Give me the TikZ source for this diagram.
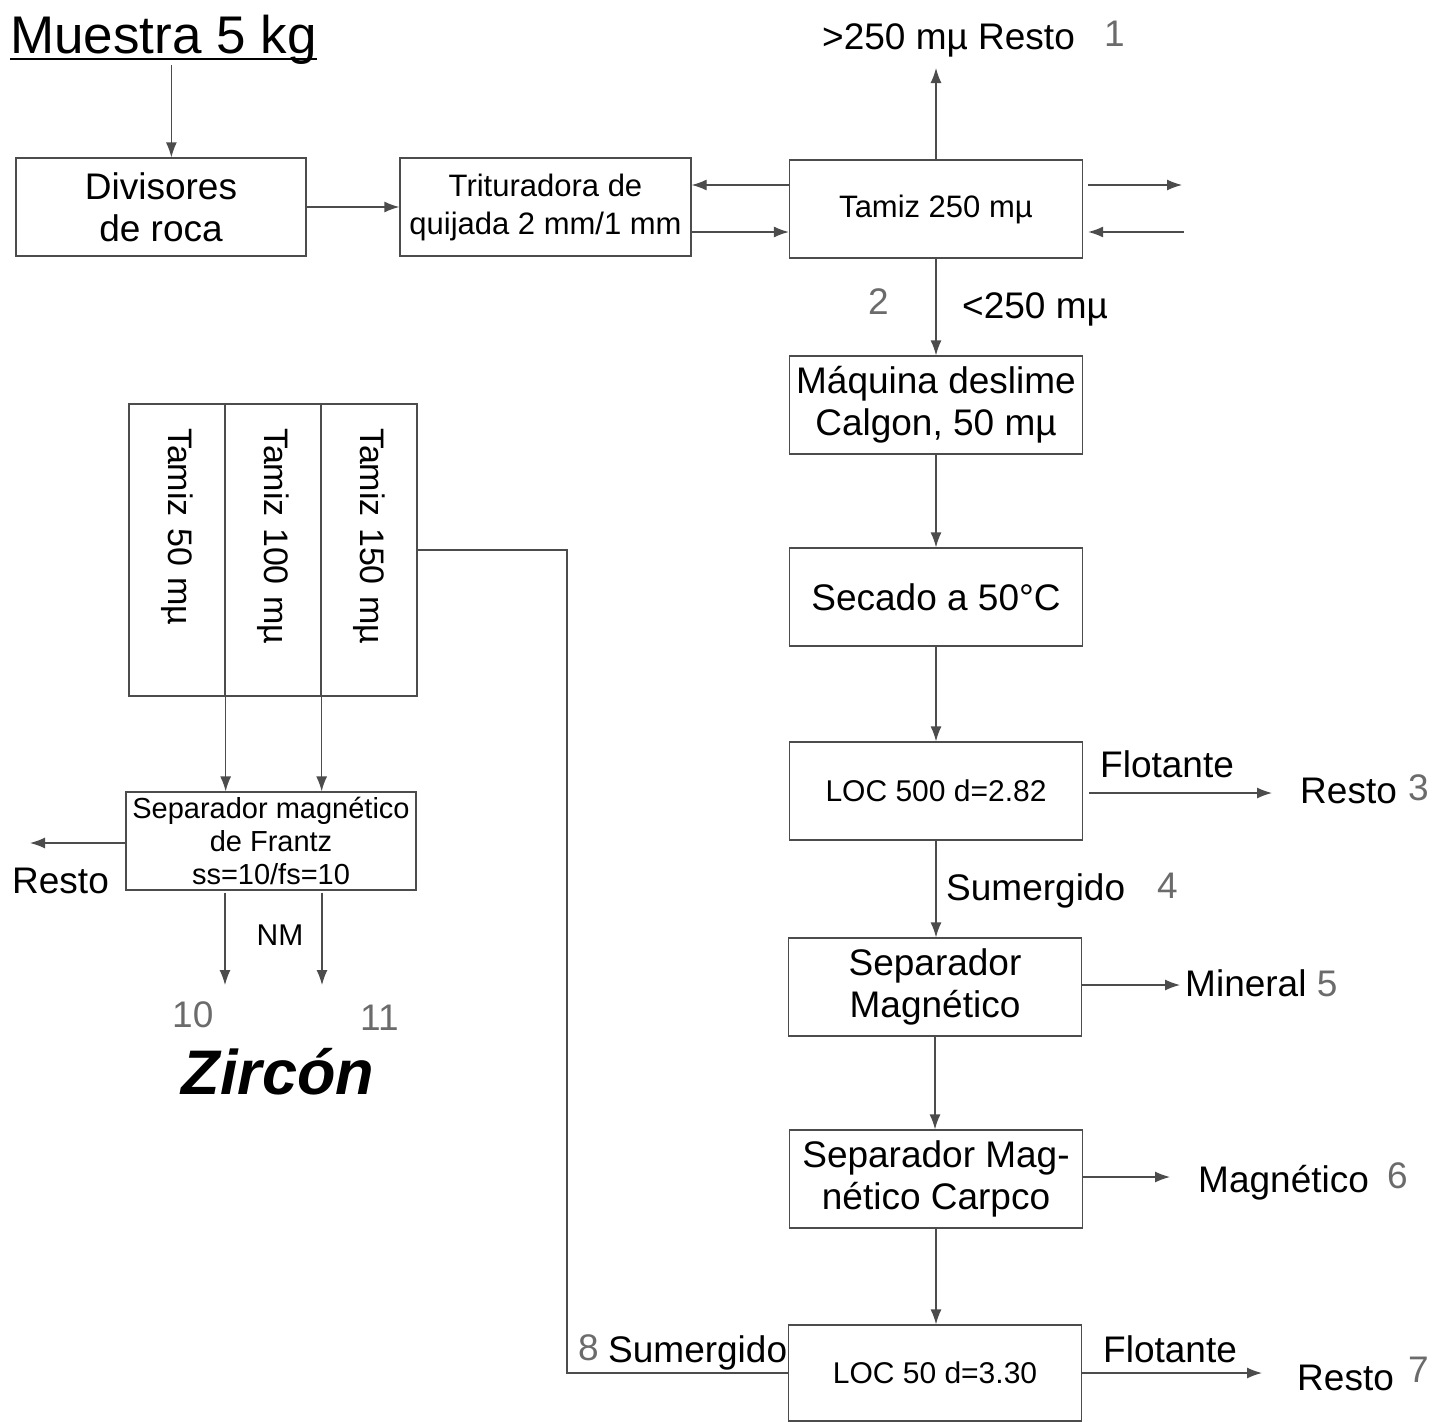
\documentclass[tikz,border=0pt]{standalone}
\usepackage{fontspec}
\setmainfont{Liberation Sans}
\usetikzlibrary{arrows.meta,positioning}
\definecolor{numgray}{gray}{0.42}
\definecolor{linegray}{gray}{0.3}
\newcommand{\fs}[2]{\fontsize{#1}{#2}\selectfont}

\begin{document}
\begin{tikzpicture}[x=1pt,y=-1pt,
  big/.style={draw=linegray, line width=1.3pt, align=center, minimum width=293pt, minimum height=98pt, inner sep=0pt, font=\fs{37}{42}},
  mid/.style={big, font=\fs{31}{38}},
  sieve/.style={draw=linegray, line width=1.3pt, rotate=-90, minimum height=96pt, text width=244pt, align=left, inner xsep=24pt, font=\fs{34}{40}},
  lbl/.style={anchor=base west, inner sep=0pt, font=\fs{37}{42}},
  num/.style={lbl, text=numgray},
  arrow/.style={-{Latex[length=15pt,width=11pt]}, draw=linegray, line width=1.3pt},
  link/.style={draw=linegray, line width=1.3pt}
]
\useasboundingbox (0,0) rectangle (1447,1421);

% top row
\node[lbl, font=\fs{53}{60}] (muestra) at (10,54) {Muestra 5 kg};
\draw[line width=2pt] ([yshift=-5pt]muestra.base west) -- ([yshift=-5pt]muestra.base east);
\node[big, minimum width=290pt] (div) at (161,207) {Divisores\\de roca};
\node[mid, minimum width=291pt] (trit) at (545.5,207) {Trituradora de\\quijada 2 mm/1 mm};
\node[mid] (tamiz) at (936,209) {Tamiz 250 mµ};
\draw[arrow] ([xshift=8pt]muestra.south) -- ([xshift=8pt]muestra.south |- div.north);
\draw[arrow] (div.east) -- (div.east -| trit.west);
\draw[arrow] ([yshift=24pt]tamiz.west) -- ([yshift=24pt]tamiz.west -| trit.east);
\draw[arrow] ([yshift=-23pt]tamiz.west -| trit.east) -- ([yshift=-23pt]tamiz.west);
\coordinate (outR) at (1182,185);
\coordinate (inR) at (1184,232);
\draw[arrow, shorten <=5pt] (tamiz.east |- outR) -- (outR);
\draw[arrow, shorten >=5pt] (inR) -- (tamiz.east |- inR);

% oversize
\node[lbl] (resto1) at (822,50) {>250 mµ Resto};
\node[num] (n1) at (1104,47) {1};
\coordinate (up) at (937,68);
\draw[arrow] (tamiz.north) -- (tamiz.north |- up);

% main column
\node[big] (maq) at (936,405) {Máquina deslime\\Calgon, 50 mµ};
\node[big] (sec) at (936,597) {Secado a 50°C};
\node[mid, font=\fs{30}{36}] (loc1) at (936,791) {LOC 500 d=2.82};
\node[big] (sepm) at (935,987) {Separador\\Magnético};
\node[big] (carp) at (936,1179) {Separador Mag-\\nético Carpco};
\node[mid, font=\fs{30}{36}, minimum height=96pt] (loc2) at (935,1373) {LOC 50 d=3.30};
\foreach \a/\b in {tamiz/maq, maq/sec, sec/loc1, loc1/sepm, sepm/carp, carp/loc2}
  \draw[arrow] (\a.south) -- (\a.south |- \b.north);

\node[num] (n2) at (868,314) {2};
\node[lbl] (fine) at (962,318) {<250 mµ};
\node[lbl] (flot1) at (1100,777) {Flotante};
\node[lbl] (resto3) at (1300,803) {Resto};
\node[num] (n3) at (1408,800) {3};
\node[lbl] (sum4) at (946,900) {Sumergido};
\node[num] (n4) at (1157,898) {4};
\node[lbl] (min5) at (1185,996) {Mineral {\color{numgray}5}};
\node[lbl] (mag6) at (1198,1192) {Magnético};
\node[num] (n6) at (1387,1188) {6};
\node[lbl] (flot2) at (1103,1362) {Flotante};
\node[lbl] (resto7) at (1297,1390) {Resto};
\node[num] (n7) at (1408,1382) {7};
\node[num] (n8) at (578,1360) {8};
\node[lbl] (sum8) at (608,1362) {Sumergido};

\coordinate (r3) at (1272,793);
\coordinate (m5) at (1180,985);
\coordinate (m6) at (1170,1177);
\coordinate (r7) at (1262,1373);
\draw[arrow, shorten <=6pt] (loc1.east |- r3) -- (r3);
\draw[arrow] (sepm.east |- m5) -- (m5);
\draw[arrow] (carp.east |- m6) -- (m6);
\draw[arrow] (loc2.east |- r7) -- (r7);

% sieve stack and Frantz
\node[sieve] (s50) at (177,550) {Tamiz 50 mµ};
\node[sieve] (s100) at (273,550) {Tamiz 100 mµ};
\node[sieve] (s150) at (369,550) {Tamiz 150 mµ};
\node[draw=linegray, line width=1.3pt, minimum width=290pt, minimum height=98pt, align=center, inner sep=0pt, font=\fs{29}{33}] (frantz) at (271,841) {\raisebox{-4pt}{\parbox{290pt}{\centering Separador magnético\\de Frantz\\ss=10/fs=10}}};
\draw[arrow] (s50.north east) -- (s50.north east |- frantz.north);
\draw[arrow] (s100.north east) -- (s100.north east |- frantz.north);
\coordinate (z10) at (225,985);
\coordinate (z11) at (322,985);
\coordinate (fl) at (30,843);
\draw[arrow, shorten <=2pt] (frantz.south -| z10) -- (z10);
\draw[arrow, shorten <=2pt] (frantz.south -| z11) -- (z11);
\draw[arrow] (frantz.west |- fl) -- (fl);
\node[lbl] (restoF) at (12,893) {Resto};
\node[font=\fs{30}{34}] (nm) at (280,935) {NM};
\node[num] (n10) at (172,1027) {10};
\node[num] (n11) at (360,1030) {11};
\node[font=\fs{63}{70}\bfseries\itshape] (zircon) at (278,1072) {Zircón};

% heavy fraction back to the 150 sieve
\coordinate (bend) at (567,550);
\draw[link] (loc2.west) -| (bend) -- (s150.north);
\end{tikzpicture}
\end{document}
